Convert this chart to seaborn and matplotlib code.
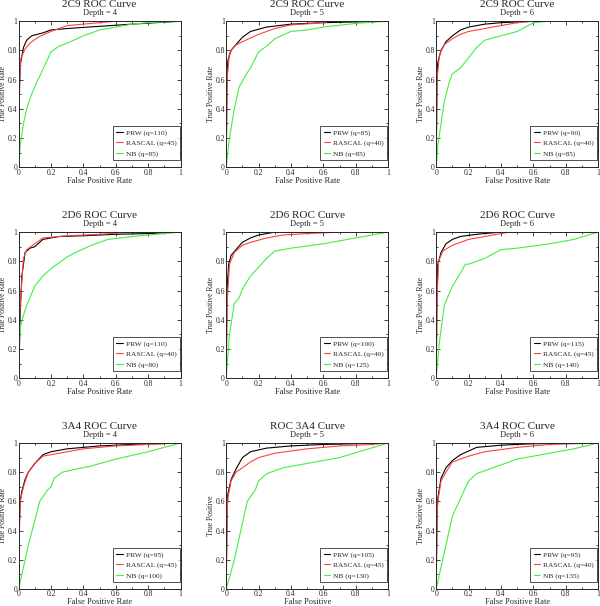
import numpy as np
import pandas as pd
import matplotlib
matplotlib.use("Agg")
import matplotlib.pyplot as plt
from matplotlib.ticker import MultipleLocator
import seaborn as sns

# panel titles / subtitles / legend labels
titles = ["2C9 ROC Curve", "2C9 ROC Curve", "2C9 ROC Curve",
          "2D6 ROC Curve", "2D6 ROC Curve", "2D6 ROC Curve",
          "3A4 ROC Curve", "ROC 3A4 Curve", "3A4 ROC Curve"]
depths = ["Depth = 4", "Depth = 5", "Depth = 6"] * 3
xlabels = ["False Positive Rate"] * 7 + ["False Positive", "False Positive Rate"]
ylabels = ["True Positive Rate"] * 7 + ["True Positive", "True Positive Rate"]
q_prw = [110, 85, 90, 110, 100, 115, 95, 105, 95]
q_rascal = [45, 40, 40, 40, 40, 45, 45, 45, 40]
q_nb = [85, 85, 85, 80, 125, 140, 100, 130, 135]
tick_vals = [0, 0.2, 0.4, 0.6, 0.8, 1]
tick_labels = ["0", "0.2", "0.4", "0.6", "0.8", "1"]

# curves: (fpr list, tpr list)
prw_fpr = [
    [0, 0.005, 0.01, 0.03, 0.05, 0.08, 0.15, 0.2, 0.3, 0.5, 0.7, 1],
    [0, 0.005, 0.01, 0.03, 0.06, 0.1, 0.15, 0.25, 0.4, 0.6, 1],
    [0, 0.005, 0.01, 0.03, 0.06, 0.1, 0.15, 0.2, 0.3, 0.4, 0.6, 1],
    [0, 0.01, 0.02, 0.04, 0.07, 0.1, 0.15, 0.25, 0.4, 0.6, 0.8, 1],
    [0, 0.005, 0.015, 0.03, 0.06, 0.1, 0.15, 0.2, 0.3, 1],
    [0, 0.005, 0.01, 0.03, 0.06, 0.1, 0.15, 0.25, 0.4, 1],
    [0, 0.005, 0.01, 0.02, 0.04, 0.06, 0.1, 0.15, 0.2, 0.3, 0.5, 0.7, 1],
    [0, 0.005, 0.01, 0.03, 0.06, 0.1, 0.15, 0.25, 0.4, 0.6, 1],
    [0, 0.005, 0.01, 0.03, 0.06, 0.1, 0.15, 0.25, 0.4, 0.6, 1],
]
prw_tpr = [
    [0, 0.5, 0.7, 0.82, 0.87, 0.9, 0.92, 0.94, 0.95, 0.965, 0.98, 1],
    [0, 0.6, 0.73, 0.8, 0.84, 0.89, 0.93, 0.96, 0.98, 0.99, 1],
    [0, 0.6, 0.72, 0.8, 0.86, 0.9, 0.94, 0.96, 0.98, 0.99, 1, 1],
    [0, 0.45, 0.7, 0.86, 0.89, 0.9, 0.95, 0.97, 0.975, 0.985, 0.99, 1],
    [0, 0.6, 0.78, 0.84, 0.88, 0.93, 0.96, 0.98, 1, 1],
    [0, 0.6, 0.78, 0.86, 0.92, 0.95, 0.97, 0.985, 1, 1],
    [0, 0.45, 0.6, 0.67, 0.75, 0.8, 0.86, 0.92, 0.94, 0.96, 0.98, 0.99, 1],
    [0, 0.5, 0.65, 0.75, 0.82, 0.9, 0.94, 0.965, 0.98, 0.99, 1],
    [0, 0.5, 0.62, 0.76, 0.83, 0.88, 0.92, 0.97, 0.985, 0.995, 1],
]
rascal_fpr = [
    [0, 0.005, 0.015, 0.04, 0.07, 0.12, 0.2, 0.3, 0.45, 0.6, 1],
    [0, 0.005, 0.02, 0.05, 0.1, 0.2, 0.3, 0.4, 0.55, 0.65, 1],
    [0, 0.005, 0.02, 0.05, 0.1, 0.15, 0.2, 0.3, 0.4, 0.5, 0.6, 1],
    [0, 0.005, 0.015, 0.03, 0.05, 0.1, 0.15, 0.3, 0.5, 0.7, 1],
    [0, 0.005, 0.02, 0.05, 0.1, 0.15, 0.25, 0.35, 0.5, 0.7, 1],
    [0, 0.005, 0.015, 0.04, 0.1, 0.2, 0.3, 0.4, 0.45, 1],
    [0, 0.005, 0.01, 0.03, 0.06, 0.1, 0.15, 0.25, 0.4, 0.6, 0.8, 1],
    [0, 0.005, 0.01, 0.03, 0.06, 0.1, 0.15, 0.2, 0.3, 0.5, 0.7, 0.9, 1],
    [0, 0.005, 0.01, 0.03, 0.06, 0.1, 0.15, 0.2, 0.3, 0.5, 0.7, 1],
]
rascal_tpr = [
    [0, 0.6, 0.75, 0.81, 0.85, 0.89, 0.93, 0.97, 0.985, 1, 1],
    [0, 0.6, 0.78, 0.83, 0.86, 0.91, 0.95, 0.975, 0.985, 1, 1],
    [0, 0.6, 0.77, 0.84, 0.88, 0.91, 0.93, 0.95, 0.97, 0.99, 1, 1],
    [0, 0.4, 0.58, 0.82, 0.88, 0.92, 0.96, 0.975, 0.985, 1, 1],
    [0, 0.5, 0.78, 0.86, 0.91, 0.93, 0.96, 0.98, 0.99, 1, 1],
    [0, 0.55, 0.8, 0.87, 0.91, 0.95, 0.97, 0.99, 1, 1],
    [0, 0.4, 0.6, 0.7, 0.8, 0.86, 0.91, 0.93, 0.96, 0.98, 0.99, 1],
    [0, 0.5, 0.62, 0.74, 0.8, 0.83, 0.87, 0.9, 0.93, 0.96, 0.98, 0.99, 1],
    [0, 0.5, 0.6, 0.74, 0.8, 0.87, 0.89, 0.91, 0.94, 0.97, 0.99, 1],
]
nb_fpr = [
    [0, 0.01, 0.03, 0.05, 0.08, 0.12, 0.15, 0.2, 0.25, 0.3, 0.4, 0.5, 0.6, 0.7, 0.8, 1],
    [0, 0.02, 0.05, 0.08, 0.12, 0.15, 0.2, 0.25, 0.3, 0.4, 0.5, 0.6, 0.8, 1],
    [0, 0.01, 0.03, 0.05, 0.08, 0.1, 0.15, 0.2, 0.25, 0.3, 0.4, 0.5, 0.6, 0.7, 1],
    [0, 0.01, 0.03, 0.05, 0.1, 0.15, 0.2, 0.25, 0.3, 0.35, 0.45, 0.55, 0.7, 0.85, 1],
    [0, 0.02, 0.05, 0.08, 0.1, 0.15, 0.2, 0.25, 0.3, 0.4, 0.6, 0.8, 1],
    [0, 0.02, 0.05, 0.1, 0.15, 0.18, 0.2, 0.3, 0.4, 0.5, 0.7, 0.85, 1],
    [0, 0.03, 0.06, 0.1, 0.13, 0.18, 0.2, 0.22, 0.27, 0.35, 0.44, 0.6, 0.8, 1],
    [0, 0.05, 0.1, 0.13, 0.18, 0.2, 0.25, 0.35, 0.5, 0.7, 0.85, 1],
    [0, 0.05, 0.1, 0.15, 0.2, 0.25, 0.3, 0.4, 0.5, 0.7, 0.85, 1],
]
nb_tpr = [
    [0, 0.15, 0.3, 0.4, 0.5, 0.6, 0.67, 0.79, 0.83, 0.85, 0.9, 0.94, 0.96, 0.98, 0.99, 1],
    [0, 0.2, 0.4, 0.55, 0.63, 0.68, 0.79, 0.83, 0.88, 0.93, 0.94, 0.96, 0.985, 1],
    [0, 0.15, 0.3, 0.45, 0.58, 0.64, 0.68, 0.75, 0.82, 0.87, 0.9, 0.93, 0.99, 1, 1],
    [0, 0.35, 0.43, 0.5, 0.63, 0.7, 0.75, 0.79, 0.83, 0.86, 0.91, 0.95, 0.97, 0.985, 1],
    [0, 0.3, 0.51, 0.55, 0.61, 0.7, 0.76, 0.82, 0.87, 0.89, 0.92, 0.96, 1],
    [0, 0.25, 0.5, 0.63, 0.72, 0.78, 0.78, 0.82, 0.88, 0.89, 0.92, 0.95, 1],
    [0, 0.15, 0.3, 0.47, 0.6, 0.68, 0.7, 0.76, 0.8, 0.82, 0.84, 0.89, 0.94, 1],
    [0, 0.2, 0.45, 0.6, 0.68, 0.74, 0.79, 0.83, 0.86, 0.9, 0.95, 1],
    [0, 0.25, 0.5, 0.62, 0.74, 0.79, 0.81, 0.85, 0.89, 0.93, 0.96, 1],
]

sns.set_style("ticks")
plt.rcParams["font.family"] = ["Liberation Serif", "DejaVu Serif"]

colors = ["#000000", "#ff4040", "#44ee44"]

fig = plt.figure(figsize=(6.0, 6.06), dpi=100)
lefts = [0.031, 0.377, 0.727]
bottoms = [0.724, 0.376, 0.028]
w, h = 0.27, 0.241

for i in range(9):
    r, c = divmod(i, 3)
    ax = fig.add_axes([lefts[c], bottoms[r], w, h])
    labels = [f"PRW (q={q_prw[i]})", f"RASCAL (q={q_rascal[i]})", f"NB (q={q_nb[i]})"]
    frames = []
    for lab, fx, ty in zip(labels, [prw_fpr[i], rascal_fpr[i], nb_fpr[i]],
                           [prw_tpr[i], rascal_tpr[i], nb_tpr[i]]):
        frames.append(pd.DataFrame({"fpr": fx, "tpr": ty, "model": lab}))
    df = pd.concat(frames, ignore_index=True)
    sns.lineplot(data=df, x="fpr", y="tpr", hue="model", palette=colors,
                 sort=False, estimator=None, linewidth=0.8, ax=ax)
    ax.set_xlim(0, 1)
    ax.set_ylim(0, 1)
    ax.set_xticks(tick_vals, tick_labels)
    ax.set_yticks(tick_vals, tick_labels)
    ax.xaxis.set_minor_locator(MultipleLocator(0.1))
    ax.yaxis.set_minor_locator(MultipleLocator(0.1))
    ax.tick_params(which="both", direction="in", top=True, right=True,
                   labelsize=5.5, pad=1, width=0.6)
    ax.tick_params(which="major", length=3)
    ax.tick_params(which="minor", length=1.5)
    for s in ax.spines.values():
        s.set_linewidth(0.7)
    ax.set_xlabel(xlabels[i], fontsize=6, labelpad=0)
    ax.set_ylabel(ylabels[i], fontsize=5.5, labelpad=0)
    ax.yaxis.set_label_coords(-0.072, 0.5)
    ax.text(0.5, 1.115, titles[i], transform=ax.transAxes, ha="center",
            va="center", fontsize=8)
    ax.text(0.5, 1.058, depths[i], transform=ax.transAxes, ha="center",
            va="center", fontsize=6)
    leg = ax.legend(loc="lower right", fontsize=5.3, frameon=True, fancybox=False,
                    handlelength=0.9, handletextpad=0.4, borderpad=0.45,
                    labelspacing=0.55, borderaxespad=0,
                    bbox_to_anchor=(0.995, 0.048))
    leg.get_frame().set_edgecolor("black")
    leg.get_frame().set_linewidth(0.6)

fig.savefig("out.png", dpi=100)
